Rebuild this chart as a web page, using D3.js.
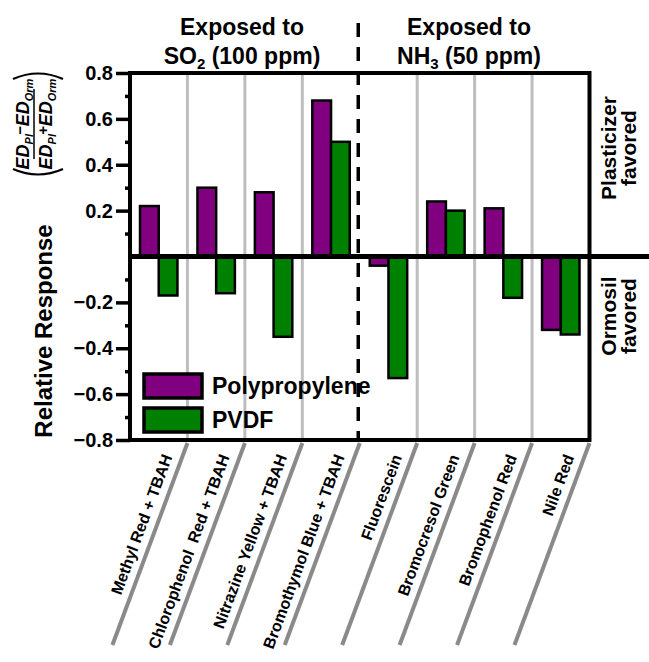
<!DOCTYPE html>
<html><head><meta charset="utf-8">
<script src="https://cdn.jsdelivr.net/npm/d3@7"></script>
<style>body{margin:0;background:#fff}svg{display:block}text{font-family:"Liberation Sans",Arial,sans-serif;font-weight:bold;fill:#000}</style>
</head><body><svg id="c" width="649" height="662"></svg>
<script>
const categories = ["Methyl Red + TBAH","Chlorophenol\u00a0 Red + TBAH","Nitrazine Yellow + TBAH","Bromothymol Blue + TBAH","Fluorescein","Bromocresol Green","Bromophenol Red","Nile Red"];
const series = ["Polypropylene","PVDF"];
const polypropylene = [0.22, 0.30, 0.28, 0.68, -0.04, 0.24, 0.21, -0.32];
const pvdf = [-0.17, -0.16, -0.35, 0.50, -0.53, 0.20, -0.18, -0.34];
const colors = ["#800080","#008000"];
const yTicks = [-0.8,-0.6,-0.4,-0.2,0.2,0.4,0.6,0.8];
const yMinor = [-0.7,-0.5,-0.3,-0.1,0.1,0.3,0.5,0.7];

const svg = d3.select("#c");
const L=130, R=589.5, T=73, B=440;
const x0 = d3.scaleBand().domain(categories).range([L,R]).padding(0);
const bw = x0.bandwidth();
const x1 = d3.scaleBand().domain(series).range([10, bw-10]).padding(0);
const y = d3.scaleLinear().domain([-0.8,0.8]).range([B,T]);
const vals = [polypropylene, pvdf];

const bounds = categories.map((c,i)=>x0(c)+bw);
svg.append("g").selectAll("line").data(bounds.slice(0,7).filter((b,i)=>i!==3)).join("line")
  .attr("x1",d=>d).attr("x2",d=>d).attr("y1",T).attr("y2",B)
  .attr("stroke","#bdbdbd").attr("stroke-width",3);

const g = svg.append("g");
categories.forEach((c,i)=>{
  series.forEach((s,j)=>{
    const v = vals[j][i];
    g.append("rect").attr("x",x0(c)+x1(s)).attr("width",x1.bandwidth())
      .attr("y",y(Math.max(0,v))).attr("height",Math.abs(y(v)-y(0)))
      .attr("fill",colors[j]).attr("stroke","#000").attr("stroke-width",2.5);
  });
});

svg.append("line").attr("x1",bounds[3]-1.5).attr("x2",bounds[3]-1.5).attr("y1",23).attr("y2",B)
  .attr("stroke","#000").attr("stroke-width",3.5).attr("stroke-dasharray","14,10");

svg.append("rect").attr("x",L).attr("y",T).attr("width",R-L).attr("height",B-T)
  .attr("fill","none").attr("stroke","#000").attr("stroke-width",4);
svg.append("line").attr("x1",L-2).attr("x2",649).attr("y1",y(0)).attr("y2",y(0))
  .attr("stroke","#000").attr("stroke-width",5);

const ax = svg.append("g").attr("transform",`translate(${L},0)`)
  .call(d3.axisLeft(y).tickValues(yTicks).tickFormat(d3.format(".1f")).tickSize(14).tickSizeOuter(0).tickPadding(3));
ax.select(".domain").remove();
ax.selectAll(".tick line").attr("stroke-width",3.5);
ax.selectAll(".tick text").attr("font-size",20).attr("font-family","Liberation Sans, Arial, sans-serif").attr("font-weight","bold");
const axm = svg.append("g").attr("transform",`translate(${L},0)`)
  .call(d3.axisLeft(y).tickValues(yMinor).tickFormat("").tickSize(5).tickSizeOuter(0));
axm.select(".domain").remove();
axm.selectAll(".tick line").attr("stroke-width",3.5);

const dxs = -75, dys = 202;
const ang = Math.atan2(dys, -dxs)*180/Math.PI;
svg.append("g").selectAll("line").data(bounds).join("line")
  .attr("x1",d=>d).attr("y1",B+3).attr("x2",d=>d+dxs).attr("y2",B+3+dys)
  .attr("stroke","#8a8a8a").attr("stroke-width",4);
svg.append("g").selectAll("text").data(categories).join("text")
  .attr("transform",(d,i)=>`translate(${bounds[i]-15},${B+17}) rotate(${-ang})`)
  .attr("text-anchor","end").attr("font-size",16).text(d=>d);

const lg = svg.append("g");
series.forEach((s,j)=>{
  lg.append("rect").attr("x",144).attr("y",374+j*34).attr("width",58).attr("height",24)
    .attr("fill",colors[j]).attr("stroke","#000").attr("stroke-width",3.5);
  lg.append("text").attr("x",212).attr("y",394+j*34).attr("font-size",23).text(s);
});

function heading(cx, gas, sub, rest){
  svg.append("text").attr("x",cx).attr("y",35).attr("text-anchor","middle").attr("font-size",23).text("Exposed to");
  const t = svg.append("text").attr("x",cx).attr("y",64).attr("text-anchor","middle").attr("font-size",23);
  t.append("tspan").text(gas);
  t.append("tspan").attr("font-size",15).attr("dy",5).text(sub);
  t.append("tspan").attr("dy",-5).text(rest);
}
heading(242,"SO","2"," (100 ppm)");
heading(469,"NH","3"," (50 ppm)");

function rlabel(cy, l1, l2){
  const t = svg.append("g").attr("transform",`translate(617,${cy}) rotate(-90)`);
  t.append("text").attr("y",-1).attr("text-anchor","middle").attr("font-size",21).text(l1);
  t.append("text").attr("y",19).attr("text-anchor","middle").attr("font-size",21).text(l2);
}
rlabel(148,"Plasticizer","favored");
rlabel(316,"Ormosil","favored");

svg.append("text").attr("transform",`translate(52,${331}) rotate(-90)`).attr("text-anchor","middle")
  .attr("font-size",24).text("Relative Response");

const fr = svg.append("g").attr("transform","translate(38,124) rotate(-90)");
const serif = "Liberation Serif, DejaVu Serif, serif";
function frac(yb, op){
  const t = fr.append("text").attr("y",yb).attr("text-anchor","middle").attr("font-family",serif)
    .attr("font-style","italic").attr("font-weight","bold").attr("font-size",18);
  t.append("tspan").text("ED");
  t.append("tspan").attr("font-size",11).attr("dy",4).text("Pl");
  t.append("tspan").attr("font-size",15).attr("dy",-8).attr("dx",-1).text(op);
  t.append("tspan").attr("dy",4).text("ED");
  t.append("tspan").attr("font-size",11).attr("dy",4).text("Orm");
}
frac(-9,"\u2212");
frac(14,"+");
fr.append("line").attr("x1",-35).attr("x2",35).attr("y1",-4).attr("y2",-4).attr("stroke","#000").attr("stroke-width",1.5);
fr.append("path").attr("d","M-45,-25 Q-56,0 -45,25").attr("fill","none").attr("stroke","#000").attr("stroke-width",2.2);
fr.append("path").attr("d","M45,-25 Q56,0 45,25").attr("fill","none").attr("stroke","#000").attr("stroke-width",2.2);
</script></body></html>
